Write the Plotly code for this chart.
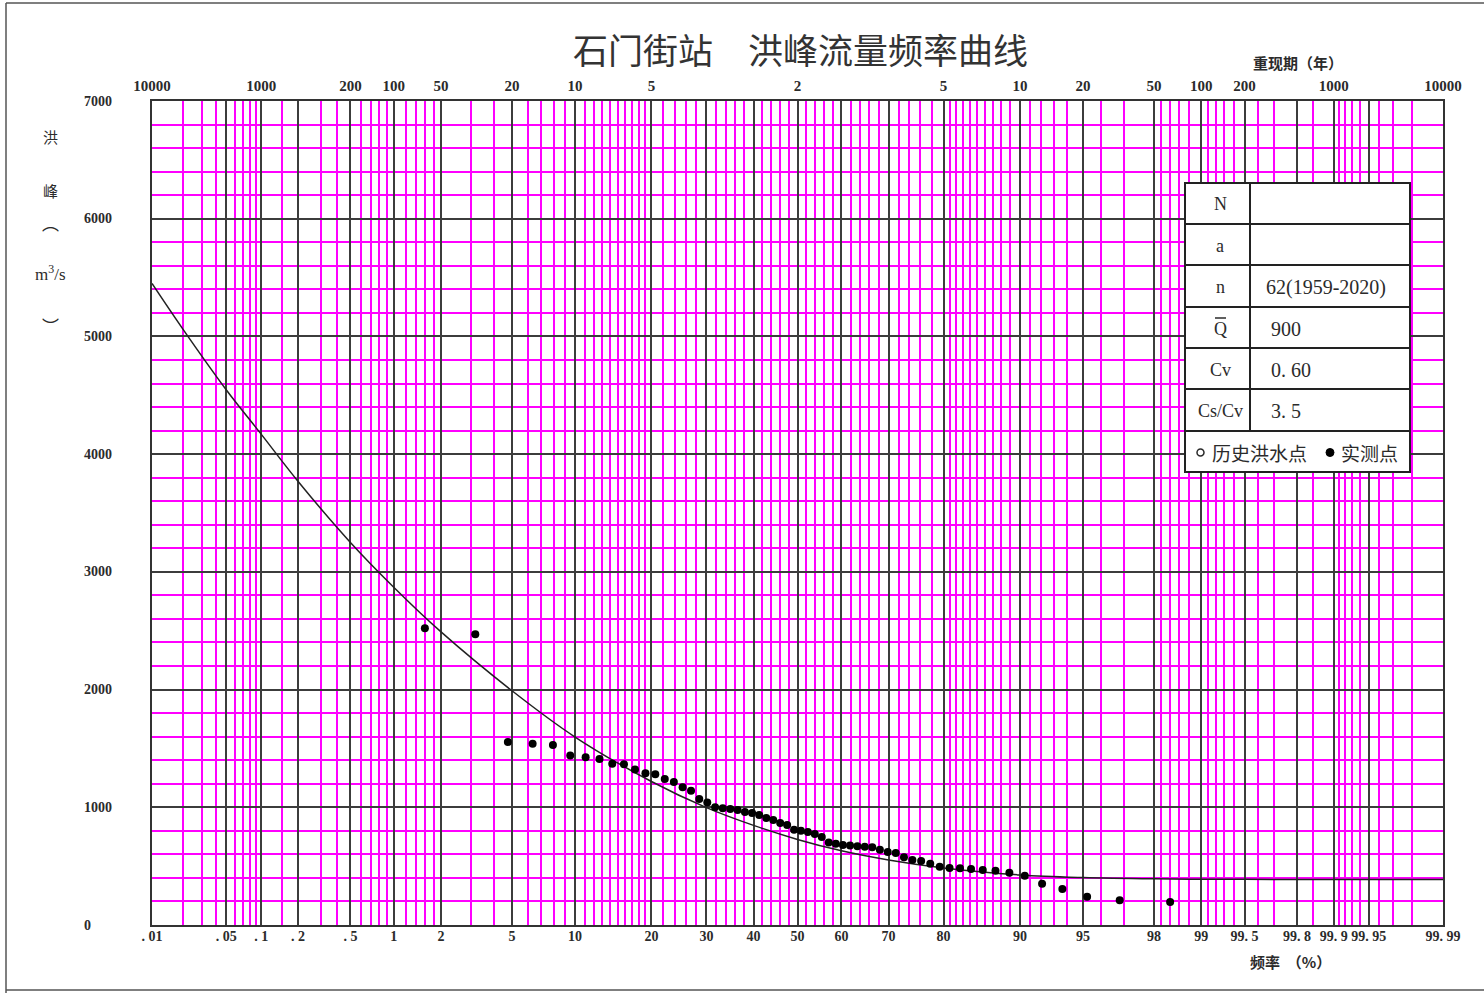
import plotly.graph_objects as go
from statistics import NormalDist

# ---------------- data ----------------
major_p = [0.01, 0.05, 0.1, 0.2, 0.5, 1, 2, 5, 10, 20, 30, 40, 50, 60, 70, 80, 90,
           95, 98, 99, 99.5, 99.8, 99.9, 99.95, 99.99]
major_labels = [". 01", ". 05", ". 1", ". 2", ". 5", "1", "2", "5", "10", "20", "30", "40",
                "50", "60", "70", "80", "90", "95", "98", "99", "99. 5", "99. 8", "99. 9",
                "99. 95", "99. 99"]
minor_p = [0.02, 0.03, 0.04, 0.06, 0.07, 0.08, 0.09, 0.15, 0.3, 0.4, 0.6, 0.7, 0.8, 0.9,
           1.2, 1.4, 1.6, 1.8, 3, 4, 6, 7, 8, 9, 11, 12, 13, 14, 15, 16, 17, 18, 19,
           22, 24, 26, 28, 32, 34, 36, 38, 42, 44, 46, 48, 52, 54, 56, 58, 62, 64, 66, 68,
           72, 74, 76, 78, 81, 82, 83, 84, 85, 86, 87, 88, 89, 91, 92, 93, 94, 96, 97,
           98.2, 98.4, 98.6, 98.8, 99.1, 99.2, 99.3, 99.4, 99.6, 99.7, 99.85,
           99.91, 99.92, 99.93, 99.94, 99.96, 99.97, 99.98]
top_p = [0.01, 0.1, 0.5, 1, 2, 5, 10, 20, 50, 80, 90, 95, 98, 99, 99.5, 99.9, 99.99]
top_labels = ["10000", "1000", "200", "100", "50", "20", "10", "5", "2", "5", "10", "20",
              "50", "100", "200", "1000", "10000"]
y_ticks = [0, 1000, 2000, 3000, 4000, 5000, 6000, 7000]

# fitted frequency curve
curve_p = [0.01, 0.02, 0.05, 0.1, 0.2, 0.5, 1, 2, 5, 10, 20, 30, 40, 50, 60, 70, 80, 90,
           95, 98, 99, 99.5, 99.9, 99.99]
curve_q = [5450, 5060, 4545, 4170, 3770, 3250, 2870, 2490, 1990, 1597, 1219, 997, 846,
           727, 630, 552, 484, 425, 403, 392, 389, 388, 386, 386]

# measured points (empirical frequency %, peak discharge m3/s)
obs_p = [1.59, 3.17, 4.76, 6.35, 7.94, 9.52, 11.11, 12.70, 14.29, 15.87, 17.46, 19.05,
         20.63, 22.22, 23.81, 25.40, 26.98, 28.57, 30.16, 31.75, 33.33, 34.92, 36.51,
         38.10, 39.68, 41.27, 42.86, 44.44, 46.03, 47.62, 49.21, 50.79, 52.38, 53.97,
         55.56, 57.14, 58.73, 60.32, 61.90, 63.49, 65.08, 66.67, 68.25, 69.84, 71.43,
         73.02, 74.60, 76.19, 77.78, 79.37, 80.95, 82.54, 84.13, 85.71, 87.30, 88.89,
         90.48, 92.06, 93.65, 95.24, 96.83, 98.41]
obs_q = [2520, 2470, 1555, 1540, 1530, 1440, 1425, 1410, 1370, 1365, 1320, 1290,
         1280, 1240, 1215, 1170, 1140, 1070, 1040, 1000, 992, 985, 977,
         960, 951, 934, 909, 892, 867, 850, 810, 800, 790, 773,
         748, 700, 690, 680, 675, 670, 665, 660, 640, 620, 612,
         575, 552, 544, 520, 495, 485, 482, 475, 468, 460, 443,
         418, 350, 305, 240, 210, 195]

table_left = ["N", "a", "n", "Q", "Cv", "Cs/Cv"]
table_right = ["", "", "62(1959-2020)", "900", "0. 60", "3. 5"]

# ---------------- helpers ----------------
nd = NormalDist()


def z(p):
    return nd.inv_cdf(p / 100.0)


W, H = 1484, 993
L, R, T, B = 152, 1443, 101, 925


def px(x):
    return (x - L) / (R - L)


def py(y):
    return (B - y) / (B - T)


SERIF = "Liberation Serif, DejaVu Serif, serif"
CJK = "Noto Sans CJK SC, sans-serif"
TXT = "#2b2b2b"
MAG = "#ff00ff"
DARK = "#3c3c3c"

fig = go.Figure()

fig.add_trace(go.Scatter(
    x=[z(p) for p in curve_p], y=curve_q, mode="lines",
    line=dict(color="#222222", width=1.5, shape="spline"), hoverinfo="skip"))
fig.add_trace(go.Scatter(
    x=[z(p) for p in obs_p], y=obs_q, mode="markers",
    marker=dict(color="black", size=8), hoverinfo="skip"))
# carrier trace for the top (return period) axis
fig.add_trace(go.Scatter(
    x=[z(p) for p in curve_p], y=curve_q, xaxis="x2", mode="lines",
    line=dict(color="rgba(0,0,0,0)"), hoverinfo="skip"))

xr = [z(0.01), z(99.99)]
fig.update_layout(
    width=W, height=H,
    margin=dict(l=L, r=W - R, t=T, b=H - B),
    plot_bgcolor="white", paper_bgcolor="white",
    showlegend=False,
    xaxis=dict(
        range=xr, tickmode="array", tickvals=[z(p) for p in major_p], ticktext=major_labels,
        showgrid=True, gridcolor=DARK, gridwidth=2,
        minor=dict(tickmode="array", tickvals=[z(p) for p in minor_p], showgrid=True,
                   gridcolor=MAG, gridwidth=1.6),
        showline=True, linecolor="#333333", linewidth=2, mirror=True,
        ticks="", zeroline=False, tickangle=0, ticklabelstandoff=-3,
        tickfont=dict(family=SERIF, size=14, color=TXT, weight="bold"),
    ),
    xaxis2=dict(
        range=xr, overlaying="x", side="top", anchor="y", tickmode="array",
        tickvals=[z(p) for p in top_p], ticktext=top_labels, showgrid=False,
        ticks="", zeroline=False, showline=False, ticklabelstandoff=6, tickangle=0,
        tickfont=dict(family=SERIF, size=15, color=TXT, weight="bold"),
    ),
    yaxis=dict(
        range=[0, 7000], tickmode="linear", tick0=0, dtick=1000,
        showgrid=True, gridcolor=DARK, gridwidth=2,
        minor=dict(tickmode="linear", tick0=0, dtick=200, showgrid=True,
                   gridcolor=MAG, gridwidth=1.6),
        showline=True, linecolor="#333333", linewidth=2, mirror=True,
        showticklabels=False, ticks="", zeroline=False,
    ),
)

ann = []
# y tick labels (left aligned as in the original)
for v in y_ticks:
    ann.append(dict(x=px(82), y=v, xref="paper", yref="y", text=str(v), showarrow=False,
                    xanchor="left", yanchor="middle",
                    font=dict(family=SERIF, size=14, color=TXT, weight="bold")))

# title
ann.append(dict(x=px(800), y=py(48), xref="paper", yref="paper",
                text="石门街站　洪峰流量频率曲线", showarrow=False,
                xanchor="center", yanchor="middle",
                font=dict(family=CJK, size=35, color="#333333")))
ann.append(dict(x=px(1298), y=py(63), xref="paper", yref="paper", text="<b>重现期（年）</b>",
                showarrow=False, xanchor="center", yanchor="middle",
                font=dict(family=CJK, size=15, color=TXT)))
ann.append(dict(x=px(1290), y=py(962), xref="paper", yref="paper", text="<b>频率  （%）</b>",
                showarrow=False, xanchor="center", yanchor="middle",
                font=dict(family=CJK, size=15, color=TXT)))
# y axis vertical title
for t, yy in [("洪", 136), ("峰", 191), ("︵", 222), ("m<sup>3</sup>/s", 273), ("︶", 325)]:
    ann.append(dict(x=px(50), y=py(yy), xref="paper", yref="paper", text=t, showarrow=False,
                    xanchor="center", yanchor="middle",
                    font=dict(family=CJK if t in ("洪", "峰", "︵", "︶") else SERIF,
                              size=15 if t in ("洪", "峰") else 17, color=TXT)))

shapes = []
# table
tx0, tx1, tdiv = 1185, 1410, 1250
row_edges = [183, 224, 265, 307, 348, 389, 431, 472]
shapes.append(dict(type="rect", xref="paper", yref="paper", x0=px(tx0), x1=px(tx1),
                   y0=py(row_edges[-1]), y1=py(row_edges[0]), fillcolor="white",
                   line=dict(color="#222222", width=2), layer="above"))
shapes.append(dict(type="line", xref="paper", yref="paper", x0=px(tdiv), x1=px(tdiv),
                   y0=py(row_edges[6]), y1=py(row_edges[0]),
                   line=dict(color="#222222", width=2), layer="above"))
for ye in row_edges[1:-1]:
    shapes.append(dict(type="line", xref="paper", yref="paper", x0=px(tx0), x1=px(tx1),
                       y0=py(ye), y1=py(ye), line=dict(color="#222222", width=2),
                       layer="above"))
for i, (lt, rt) in enumerate(zip(table_left, table_right)):
    yc = (row_edges[i] + row_edges[i + 1]) / 2 + 1
    ann.append(dict(x=px(1220), y=py(yc), xref="paper", yref="paper", text=lt,
                    showarrow=False, xanchor="center", yanchor="middle",
                    font=dict(family=SERIF, size=18, color=TXT)))
    if rt:
        ann.append(dict(x=px(1264) if i == 2 else px(1269), y=py(yc), xref="paper",
                        yref="paper", text=rt, showarrow=False, xanchor="left",
                        yanchor="middle", font=dict(family=SERIF, size=20, color=TXT)))
# overline of Q
shapes.append(dict(type="line", xref="paper", yref="paper", x0=px(1215), x1=px(1226),
                   y0=py(318), y1=py(318), line=dict(color=TXT, width=1.5), layer="above"))
# legend row
yl = (row_edges[6] + row_edges[7]) / 2 + 1
shapes.append(dict(type="circle", xref="paper", yref="paper", x0=px(1197), x1=px(1204),
                   y0=py(yl + 3.5), y1=py(yl - 3.5), line=dict(color=TXT, width=1.5),
                   fillcolor="white", layer="above"))
shapes.append(dict(type="circle", xref="paper", yref="paper", x0=px(1326), x1=px(1334),
                   y0=py(yl + 4), y1=py(yl - 4), line=dict(color="black", width=1),
                   fillcolor="black", layer="above"))
ann.append(dict(x=px(1210), y=py(yl), xref="paper", yref="paper", text="历史洪水点",
                showarrow=False, xanchor="left", yanchor="middle",
                font=dict(family=CJK, size=19, color=TXT)))
ann.append(dict(x=px(1339), y=py(yl), xref="paper", yref="paper", text="实测点",
                showarrow=False, xanchor="left", yanchor="middle",
                font=dict(family=CJK, size=19, color=TXT)))

# outer page frame
frame = dict(color="#555555", width=1.5)
shapes.append(dict(type="line", xref="paper", yref="paper", x0=px(6), x1=px(6),
                   y0=py(993), y1=py(3), line=frame, layer="above"))
shapes.append(dict(type="line", xref="paper", yref="paper", x0=px(6), x1=px(1484),
                   y0=py(3), y1=py(3), line=frame, layer="above"))
shapes.append(dict(type="line", xref="paper", yref="paper", x0=px(6), x1=px(1484),
                   y0=py(990), y1=py(990), line=frame, layer="above"))

fig.update_layout(annotations=ann, shapes=shapes)

fig.write_html(
    "out.html",
    config={"displayModeBar": False},
    post_script=("document.body.style.margin='0';"
                 "document.body.style.overflow='hidden';"
                 "document.documentElement.style.overflow='hidden';"),
)
